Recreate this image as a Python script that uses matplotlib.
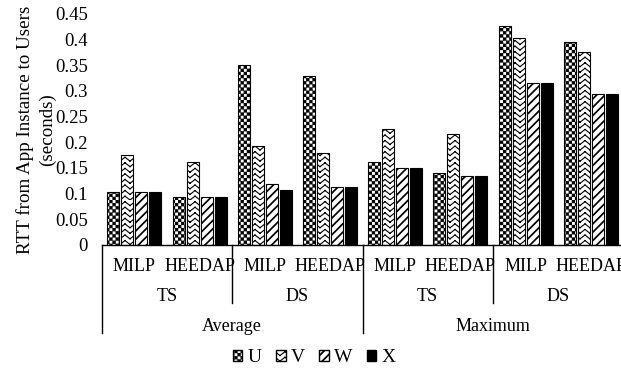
import warnings

import numpy as np
import matplotlib
matplotlib.use('Agg')
import matplotlib.pyplot as plt
import matplotlib.hatch as mhatch
from matplotlib.path import Path
from matplotlib.patches import Patch
from matplotlib.ticker import FuncFormatter

# Bar values: RTT from app instance to users (seconds)
methods = ['MILP', 'HEEDAP', 'MILP', 'HEEDAP', 'MILP', 'HEEDAP', 'MILP', 'HEEDAP']
scenarios = ['TS', 'DS', 'TS', 'DS']
stats = ['Average', 'Maximum']
series_names = ['U', 'V', 'W', 'X']
u_vals = [0.103, 0.094, 0.350, 0.329, 0.162, 0.141, 0.426, 0.396]
v_vals = [0.175, 0.161, 0.193, 0.179, 0.225, 0.216, 0.404, 0.376]
w_vals = [0.103, 0.094, 0.119, 0.112, 0.150, 0.134, 0.316, 0.295]
x_vals = [0.103, 0.094, 0.108, 0.112, 0.150, 0.134, 0.316, 0.295]


# Extra fill patterns: 'c' = checkerboard, 'z' = zigzag rows
class CheckerHatch(mhatch.HatchPatternBase):
    def __init__(self, hatch, density):
        self.num_cells = hatch.count('c') * 8
        self.num_vertices = (self.num_cells ** 2 // 2) * 5

    def set_vertices_and_codes(self, vertices, codes):
        n = self.num_cells
        step = 1.0 / n
        inset = 0.0045
        square = np.array([[0, 0], [1, 0], [1, 1], [0, 1], [0, 0]]) * (step - 2 * inset) + inset
        i, j = np.nonzero(np.add.outer(np.arange(n), np.arange(n)) % 2 == 0)
        corners = np.column_stack([i, j]) * step
        vertices[:] = (corners[:, None, :] + square[None]).reshape(-1, 2)
        codes[:] = np.tile([Path.MOVETO, Path.LINETO, Path.LINETO,
                            Path.LINETO, Path.CLOSEPOLY], len(i))


class ZigzagHatch(mhatch.HatchPatternBase):
    # each tooth edge is its own segment so nothing gets filled
    def __init__(self, hatch, density):
        k = hatch.count('z')
        self.num_rows = k * 9
        self.num_teeth = k * 5
        self.num_vertices = self.num_rows * self.num_teeth * 4

    def set_vertices_and_codes(self, vertices, codes):
        npts = 2 * self.num_teeth + 1
        xs = np.linspace(0, 1, npts)
        amp = 0.7 / self.num_rows
        segs = []
        for r in range(self.num_rows):
            ys = r / self.num_rows + amp * (np.arange(npts) % 2)
            pts = np.column_stack([xs, ys])
            segs.append(np.stack([pts[:-1], pts[1:]], axis=1).reshape(-1, 2))
        vertices[:] = np.concatenate(segs)
        codes[0::2] = Path.MOVETO
        codes[1::2] = Path.LINETO


mhatch._hatch_types.extend([CheckerHatch, ZigzagHatch])
warnings.filterwarnings('ignore', message='hatch must consist')

plt.rcParams['font.family'] = ['Liberation Serif', 'DejaVu Serif']
plt.rcParams['hatch.linewidth'] = 1.0
plt.rcParams['hatch.color'] = 'black'

fig = plt.figure(figsize=(6.21, 3.75), dpi=100)
ax = fig.add_axes([0.1638, 0.3467, 0.840, 0.616])

pos = np.arange(len(methods))
pitch = 0.2147
width = 0.184
hatches = ['cccc', 'zz', '////', None]
hatch_widths = [0.8, 0.8, 1.25, 1.0]
faces = ['white', 'white', 'white', 'black']
all_vals = [u_vals, v_vals, w_vals, x_vals]


def set_hatch_width(patch, lw):
    if hasattr(patch, 'set_hatch_linewidth'):
        patch.set_hatch_linewidth(lw)


for i, (name, vals) in enumerate(zip(series_names, all_vals)):
    bars = ax.bar(pos + (i - 1.5) * pitch, vals, width, color=faces[i],
                  edgecolor='black', linewidth=0.8, hatch=hatches[i], label=name)
    for bar in bars:
        set_hatch_width(bar, hatch_widths[i])

ax.set_xlim(-0.5, 7.5)
ax.set_ylim(0, 0.45)
ax.set_yticks(np.arange(0, 0.451, 0.05))
ax.yaxis.set_major_formatter(FuncFormatter(lambda y, _: f'{y:.2f}'.rstrip('0').rstrip('.') or '0'))
ax.tick_params(axis='y', length=0, pad=10, labelsize=13.5)
ax.set_xticks([])
for side in ['top', 'right', 'left']:
    ax.spines[side].set_visible(False)
ax.spines['bottom'].set_linewidth(1.0)

# Multi-level category axis below the bars
trans = ax.get_xaxis_transform()
for b in [1.5, 5.5]:
    ax.plot([b, b], [0, -0.251], color='black', lw=1.0, transform=trans, clip_on=False)
for b in [-0.5, 3.5, 7.5]:
    ax.plot([b, b], [0, -0.381], color='black', lw=1.0, transform=trans, clip_on=False)
for p, m in zip(pos, methods):
    ax.text(p, -0.093, m, transform=trans, ha='center', va='center', fontsize=13)
for k, s in enumerate(scenarios):
    ax.text(2 * k + 0.5, -0.221, s, transform=trans, ha='center', va='center', fontsize=13)
for k, s in enumerate(stats):
    ax.text(4 * k + 1.5, -0.351, s, transform=trans, ha='center', va='center', fontsize=13)

fig.text(36 / 621, 1 - 129.5 / 375, 'RTT from App Instance to Users\n(seconds)',
         rotation=90, ha='center', va='center', multialignment='center',
         fontsize=13.7, linespacing=1.4)

handles = [Patch(facecolor=faces[i], edgecolor='black', hatch=hatches[i], label=n)
           for i, n in enumerate(series_names)]
leg = fig.legend(handles=handles, loc='center', bbox_to_anchor=(314 / 621, 1 - 358 / 375),
                 ncol=4, frameon=False, fontsize=14, handlelength=0.5, handleheight=0.5,
                 handletextpad=0.25, columnspacing=0.75, borderpad=0)
for h, lw in zip(leg.get_patches(), hatch_widths):
    set_hatch_width(h, lw)

fig.savefig('out.png', dpi=100)
